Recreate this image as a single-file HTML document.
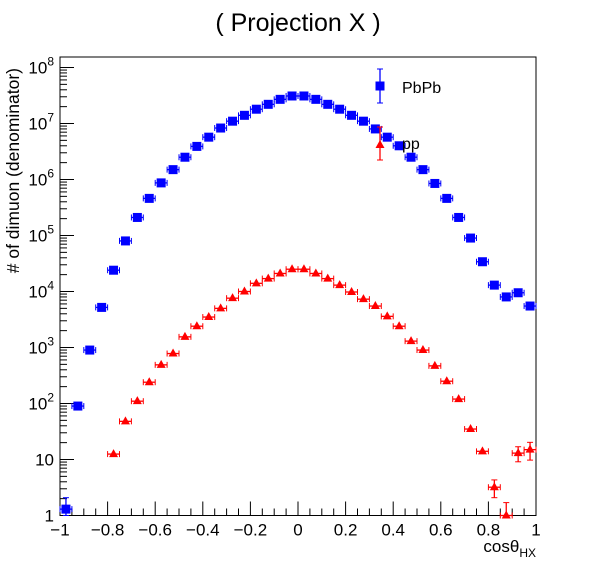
<!DOCTYPE html>
<html><head><meta charset="utf-8">
<style>
body{margin:0;background:#fff;}
svg{display:block;font-family:"Liberation Sans",sans-serif;}
</style></head>
<body>
<svg id="chart" width="596" height="572">
<rect x="0" y="0" width="596" height="572" fill="#fff"/>
<text x="298" y="31" font-size="25" text-anchor="middle">( Projection X )</text>
<g id="axes"></g>
<g id="marks"></g>
<g id="legend"></g>
</svg>
<script>
const binCenters=[-0.975,-0.925,-0.875,-0.825,-0.775,-0.725,-0.675,-0.625,-0.575,-0.525,-0.475,-0.425,-0.375,-0.325,-0.275,-0.225,-0.175,-0.125,-0.075,-0.025,0.025,0.075,0.125,0.175,0.225,0.275,0.325,0.375,0.425,0.475,0.525,0.575,0.625,0.675,0.725,0.775,0.825,0.875,0.925,0.975];
const pbpbValues=[1.3,90,900,5200,24000,80000,2.1e5,4.6e5,8.7e5,1.5e6,2.5e6,3.9e6,5.7e6,8.3e6,1.1e7,1.4e7,1.8e7,2.2e7,2.7e7,3.1e7,3.1e7,2.7e7,2.2e7,1.8e7,1.4e7,1.1e7,8e6,5.7e6,4e6,2.5e6,1.5e6,8.5e5,4.6e5,2.1e5,9e4,3.4e4,1.3e4,8e3,9.5e3,5.5e3];
const ppValues=[null,null,null,null,12.5,48,110,240,490,780,1550,2400,3500,5000,7600,1e4,1.4e4,1.7e4,2.1e4,2.5e4,2.5e4,2.1e4,1.7e4,1.3e4,9800,7300,5500,3600,2400,1300,900,470,250,120,35,14,3.2,1.0,13,15];
const ppRelErr=[0,0,0,0,0.1,0.05,0,0,0,0,0,0,0,0,0,0,0,0,0,0,0,0,0,0,0,0,0,0,0,0,0,0,0,0,0.05,0.12,0.35,0.7,0.3,0.35];
const pbpbRelErr=[0.6,0,0,0,0,0,0,0,0,0,0,0,0,0,0,0,0,0,0,0,0,0,0,0,0,0,0,0,0,0,0,0,0,0,0,0,0,0.1,0.15,0.2];
const xTicks=[-1,-0.8,-0.6,-0.4,-0.2,0,0.2,0.4,0.6,0.8,1];
const xTickLabels=["−1","−0.8","−0.6","−0.4","−0.2","0","0.2","0.4","0.6","0.8","1"];
const yDecades=[0,1,2,3,4,5,6,7,8];
const yTickLabels=["1","10","10<tspan dy='-8' font-size='12'>2</tspan>","10<tspan dy='-8' font-size='12'>3</tspan>","10<tspan dy='-8' font-size='12'>4</tspan>","10<tspan dy='-8' font-size='12'>5</tspan>","10<tspan dy='-8' font-size='12'>6</tspan>","10<tspan dy='-8' font-size='12'>7</tspan>","10<tspan dy='-8' font-size='12'>8</tspan>"];

const L=60,R=536,T=57,B=515.5,DEC=56;
const binW=0.05;
function xs(v){return L+(v+1)/2*(R-L);}
function ys(v){return B-Math.log10(v)*DEC;}
const NS="http://www.w3.org/2000/svg";
function mk(parent,tag,attrs){const e=document.createElementNS(NS,tag);for(const k in attrs)e.setAttribute(k,attrs[k]);parent.appendChild(e);return e;}
const axes=document.getElementById('axes'),marks=document.getElementById('marks'),legend=document.getElementById('legend');

const frame=mk(axes,'rect',{x:L,y:T,width:R-L,height:B-T,fill:'none',stroke:'#000','stroke-width':1});


for(let i=0;i<=40;i++){const v=-1+i*0.05;const x=xs(v);const major=(i%4===0);
 const t=mk(axes,'line',{x1:x,x2:x,y1:B,y2:B-(major?14:7),stroke:'#000'});
 
 }
xTicks.forEach((v,i)=>{const t=mk(axes,'text',{x:xs(v),y:B+20,'font-size':17,'text-anchor':'middle'});t.innerHTML=xTickLabels[i];
 
 });
yDecades.forEach((d,i)=>{const y=ys(Math.pow(10,d));
 const t=mk(axes,'line',{x1:L,x2:L+14,y1:y,y2:y,stroke:'#000'});
 
 
 const lb=mk(axes,'text',{x:L-6,y:y+6,'font-size':17,'text-anchor':'end'});lb.innerHTML=yTickLabels[i];
 
 
 for(let m=2;m<=9;m++){const v=Math.pow(10,d)*m;const yy=ys(v);if(yy<T)continue;
  const mt=mk(axes,'line',{x1:L,x2:L+7,y1:yy,y2:yy,stroke:'#000'});
  
  }
});
const xt=mk(axes,'text',{x:536,y:552,'font-size':17,'text-anchor':'end'});xt.innerHTML="cosθ<tspan dy='5' font-size='12'>HX</tspan>";


const yt=mk(axes,'text',{x:0,y:0,'font-size':17.5,'text-anchor':'end',transform:'translate(19,68) rotate(-90)'});yt.textContent="# of dimuon (denominator)";



function drawPoint(g,cx,cy,color,shape,eLo,eHi,hw){
 mk(g,'line',{x1:cx-hw,x2:cx+hw,y1:cy,y2:cy,stroke:color,'stroke-width':1.3});
 mk(g,'line',{x1:cx-hw,x2:cx-hw,y1:cy-3,y2:cy+3,stroke:color});
 mk(g,'line',{x1:cx+hw,x2:cx+hw,y1:cy-3,y2:cy+3,stroke:color});
 if(eHi-eLo>10){mk(g,'line',{x1:cx,x2:cx,y1:eLo,y2:eHi,stroke:color,'stroke-width':1.3});
  mk(g,'line',{x1:cx-3,x2:cx+3,y1:eLo,y2:eLo,stroke:color});mk(g,'line',{x1:cx-3,x2:cx+3,y1:eHi,y2:eHi,stroke:color});}
 if(shape==='sq')mk(g,'rect',{x:cx-4.5,y:cy-4.5,width:9,height:9,fill:color});
 else mk(g,'polygon',{points:`${cx},${cy-5} ${cx-4.5},${cy+3} ${cx+4.5},${cy+3}`,fill:color});
}
function series(vals,errs,color,shape,name){
 vals.forEach((v,i)=>{if(v==null)return;const g=mk(marks,'g',{});
  
  
  const cx=xs(binCenters[i]),cy=Math.min(ys(v),B);
  const e=errs[i];
  const hi=ys(v*(1+e)),lo=Math.min(ys(Math.max(v*(1-e),1e-3)),B);
  const hw=(xs(binW)-xs(0))/2;
  drawPoint(g,cx,cy,color,shape,hi,lo,hw);});
}
series(ppValues,ppRelErr,'#ff0000','tri','pp-point');
series(pbpbValues,pbpbRelErr,'#0000ff','sq','pbpb-point');

const lg1=mk(legend,'g',{});


drawPoint(lg1,380,86,'#0000ff','sq',69,103,0);
mk(lg1,'text',{x:402,y:93,'font-size':16}).textContent='PbPb';
const lg2=mk(legend,'g',{});


drawPoint(lg2,380,145,'#ff0000','tri',127,160,0);
mk(lg2,'text',{x:402,y:149,'font-size':16}).textContent='pp';
</script>
</body></html>
